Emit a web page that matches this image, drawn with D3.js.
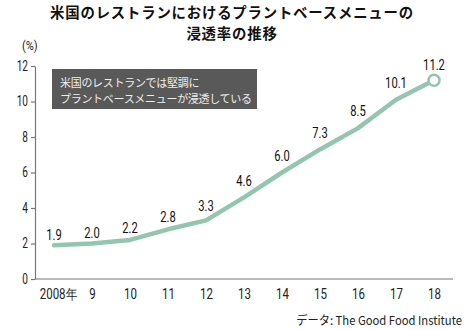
<!DOCTYPE html>
<html><head><meta charset="utf-8">
<script src="https://cdn.jsdelivr.net/npm/d3@7/dist/d3.min.js"></script>
<style>
body{margin:0;background:#fff;}
svg{display:block;}
.num{font-family:Roboto,"Liberation Sans",sans-serif;}
.cjk{font-family:"Noto Sans CJK JP","Noto Sans CJK SC",sans-serif;}
</style></head>
<body>
<script>
const years = [2008,2009,2010,2011,2012,2013,2014,2015,2016,2017,2018];
const yearLabels = ["2008年","9","10","11","12","13","14","15","16","17","18"];
const values = [1.9,2.0,2.2,2.8,3.3,4.6,6.0,7.3,8.5,10.1,11.2];
const yTicks = [0,2,4,6,8,10,12];
const titleLines = ["米国のレストランにおけるプラントベースメニューの","浸透率の推移"];
const noteLines = ["米国のレストランでは堅調に","プラントベースメニューが浸透している"];
const unitLabel = "(%)";
const sourceLabel = "データ: The Good Food Institute";

const W=465,H=330;
const svg=d3.select("body").append("svg").attr("width",W).attr("height",H);
const x=d3.scalePoint().domain(years).range([54,434]);
const y=d3.scaleLinear().domain([0,12]).range([279,66]);
const axisColor="#777";
const lineColor="#94c6af";

function condense(sel,k){
  sel.each(function(){
    const t=d3.select(this);
    const tx=+t.attr("x")||0, ty=+t.attr("y")||0;
    t.attr("x",0).attr("y",0).attr("transform",`translate(${tx},${ty}) scale(${k},1)`);
  });
}

// title
svg.append("g").selectAll("text").data(titleLines).join("text")
  .attr("class","cjk").attr("text-anchor","middle")
  .attr("x",232).attr("y",(d,i)=>17.5+i*21)
  .attr("font-size","14.4px").attr("letter-spacing","0.8px").attr("font-weight","bold").attr("fill","#111")
  .text(d=>d);

// unit
svg.append("text").attr("class","num").attr("x",22).attr("y",50)
  .attr("font-size","13px").attr("fill","#222").text(unitLabel).call(condense,0.85);

// y axis
const ya=svg.append("g").attr("transform","translate(35,0)")
  .call(d3.axisLeft(y).tickValues(yTicks).tickSize(4).tickSizeOuter(0).tickPadding(3));
ya.select(".domain").attr("stroke",axisColor).attr("stroke-width",1.2);
ya.selectAll(".tick line").attr("stroke",axisColor).attr("stroke-width",1.2);
ya.selectAll(".tick text").attr("class","num").attr("font-size","14px").attr("fill","#222").call(condense,0.72);

// x axis
const xa=svg.append("g").attr("transform","translate(0,279)")
  .call(d3.axisBottom(x).tickSize(0).tickFormat((d,i)=>yearLabels[i]));
xa.select(".domain").remove();
svg.append("line").attr("x1",35).attr("x2",453).attr("y1",279).attr("y2",279)
  .attr("stroke",axisColor).attr("stroke-width",1.2);
xa.selectAll(".tick text").attr("class","num").attr("font-size","14px").attr("fill","#222")
  .attr("y",20).attr("dy",0).attr("x",(d,i)=>i===0?4:0).call(condense,0.82);

// annotation box
svg.append("rect").attr("x",52).attr("y",69).attr("width",205).attr("height",40).attr("fill","#595959");
const note=svg.append("text").attr("class","cjk")
  .attr("font-size","11px").attr("letter-spacing","-0.3px").attr("fill","#eeeeee");
note.selectAll("tspan").data(noteLines).join("tspan")
  .attr("x",60).attr("y",(d,i)=>87+i*15.5).text(d=>d);

// line
const line=d3.line().x((d,i)=>x(years[i])).y(d=>y(d));
svg.append("path").datum(values).attr("d",line).attr("fill","none")
  .attr("stroke",lineColor).attr("stroke-width",4.5).attr("stroke-linejoin","round").attr("stroke-linecap","round");
svg.append("circle").attr("cx",x(years[years.length-1])).attr("cy",y(values[values.length-1]))
  .attr("r",5.5).attr("fill","#fff").attr("stroke",lineColor).attr("stroke-width",2.5);

// value labels
function slope(i){
  const a=i>0?values[i]-values[i-1]:null, b=i<values.length-1?values[i+1]-values[i]:null;
  if(a===null) return b; if(b===null) return a; return (a+b)/2;
}
svg.append("g").selectAll("text").data(values).join("text")
  .attr("class","num").attr("x",(d,i)=>x(years[i]))
  .attr("y",(d,i)=>y(d)-(10+5*slope(i))+5)
  .attr("text-anchor","middle").attr("font-size","14px").attr("fill","#111")
  .text(d=>d.toFixed(1)).call(condense,0.8);

// source
svg.append("text").attr("class","cjk").attr("x",462).attr("y",325)
  .attr("text-anchor","end").attr("font-size","12px").attr("fill","#222")
  .text(sourceLabel).call(condense,0.94);
</script>
</body></html>
